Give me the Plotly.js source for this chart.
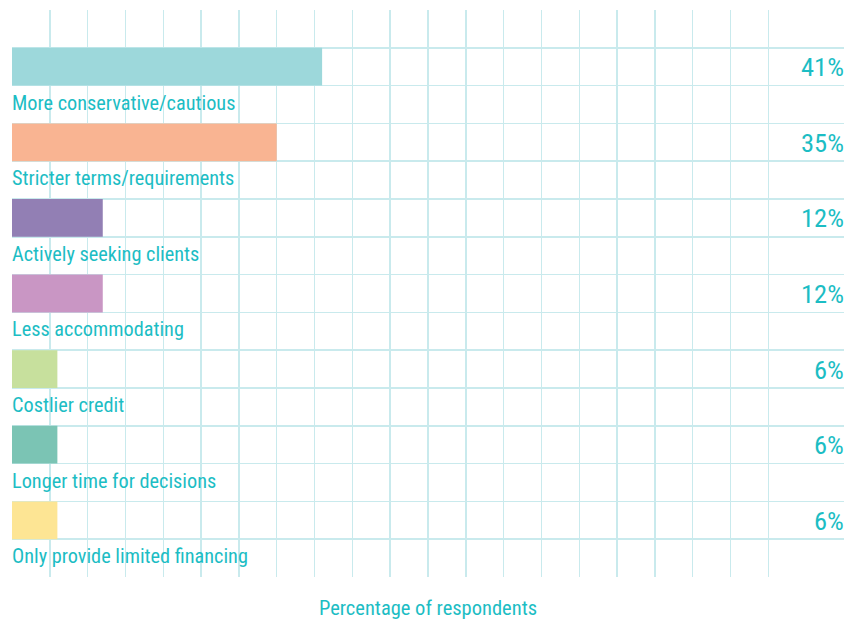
<!DOCTYPE html>
<html>
<head>
<meta charset="utf-8">
<script src="https://cdn.plot.ly/plotly-3.0.1.min.js"></script>
<style>html,body{margin:0;padding:0;background:#fff;}#chart{width:855px;height:622px;}</style>
</head>
<body>
<div id="chart"></div>
<script>
const categories = [
  "More conservative/cautious",
  "Stricter terms/requirements",
  "Actively seeking clients",
  "Less accommodating",
  "Costlier credit",
  "Longer time for decisions",
  "Only provide limited financing"
];
const values = [41, 35, 12, 12, 6, 6, 6];
const valueLabels = ["41%", "35%", "12%", "12%", "6%", "6%", "6%"];
const barColors = ["#9dd8db", "#f9b492", "#927fb4", "#c996c4", "#c7e09d", "#7bc4b4", "#fde594"];
const axisTitle = "Percentage of respondents";

const teal = "#1cbdc4";
const font = "'Roboto Condensed', 'Liberation Sans Narrow', sans-serif";

// each category occupies two grid rows: bar row, then label row
const barPos = categories.map((c, i) => 1.5 + 2 * i);
const labelPos = categories.map((c, i) => 2.5 + 2 * i);

const trace = {
  type: "bar",
  orientation: "h",
  x: values,
  y: barPos,
  width: 1,
  marker: { color: barColors, line: { width: 0 } },
  hoverinfo: "skip"
};

const annotations = [];
categories.forEach((c, i) => {
  annotations.push({
    x: 0, y: labelPos[i], xref: "x", yref: "y",
    text: c, showarrow: false, xanchor: "left", yanchor: "middle",
    yshift: 2, xshift: -2,
    font: { family: font, size: 20.3, color: teal }
  });
  annotations.push({
    x: 110, y: barPos[i], xref: "x", yref: "y",
    text: valueLabels[i], showarrow: false, xanchor: "right", yanchor: "middle",
    xshift: 2,
    font: { family: font, size: 26.5, color: teal }
  });
});

const xt = [];
for (let v = 5; v <= 100; v += 5) xt.push(v);
const yt = [];
for (let v = 1; v <= 14; v += 1) yt.push(v);

const layout = {
  width: 855, height: 622,
  margin: { l: 12, r: 11, t: 10, b: 45 },
  paper_bgcolor: "#ffffff", plot_bgcolor: "#ffffff",
  showlegend: false,
  xaxis: {
    range: [0, 110], tickvals: xt, showticklabels: false, ticks: "",
    showgrid: true, gridcolor: "#c9eaed", gridwidth: 1.5,
    zeroline: false, showline: false, fixedrange: true,
    title: { text: axisTitle, standoff: 23, font: { family: font, size: 20.5, color: teal } }
  },
  yaxis: {
    range: [15, 0], tickvals: yt, showticklabels: false, ticks: "",
    showgrid: true, gridcolor: "#c9eaed", gridwidth: 1.5,
    zeroline: false, showline: false, fixedrange: true
  },
  annotations: annotations
};

Plotly.newPlot("chart", [trace], layout, { displayModeBar: false, staticPlot: true });
</script>
</body>
</html>
